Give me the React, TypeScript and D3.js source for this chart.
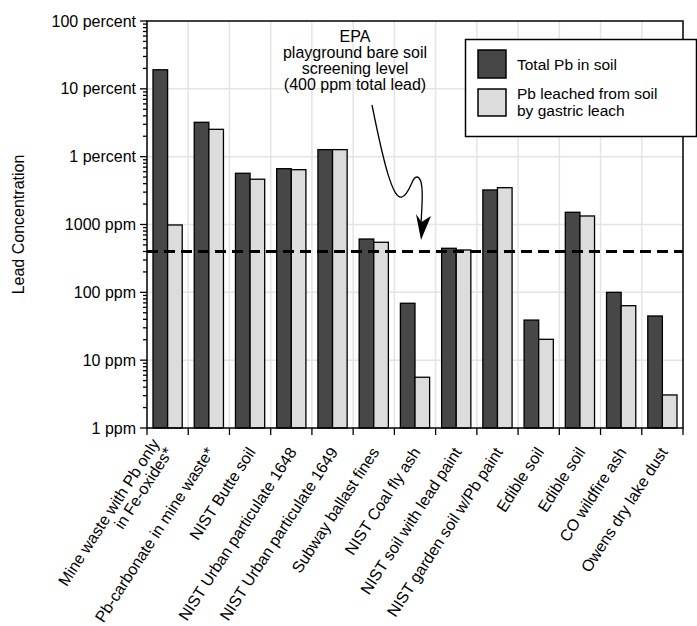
import React from "react";
import * as d3 from "d3";

// sample names (two-line ones split with \n)
const categories = [
  "Mine waste with Pb only\nin Fe-oxides*",
  "Pb-carbonate in mine waste*",
  "NIST Butte soil",
  "NIST Urban particulate 1648",
  "NIST Urban particulate 1649",
  "Subway ballast fines",
  "NIST Coal fly ash",
  "NIST soil with lead paint",
  "NIST garden soil w/Pb paint",
  "Edible soil",
  "Edible soil",
  "CO wildfire ash",
  "Owens dry lake dust",
];

// ppm
const totalPb = [191000, 32100, 5690, 6650, 12700, 611, 69, 446, 3230, 39, 1514, 100, 44.8];
const leachedPb = [984, 25300, 4650, 6430, 12700, 547, 5.6, 421, 3490, 20.3, 1335, 63.5, 3.07];

const yTickValues = [1, 10, 100, 1000, 10000, 100000, 1000000];
const yTickLabels = ["1 ppm", "10 ppm", "100 ppm", "1000 ppm", "1 percent", "10 percent", "100 percent"];

const screeningLevel = 400;
const noteLines = ["EPA", "playground bare soil", "screening level", "(400 ppm total lead)"];
const seriesNames = ["Total Pb in soil", "Pb leached from soil\nby gastric leach"];

const W = 697;
const H = 626;
const left = 147;
const right = 683;
const top = 21;
const bottom = 428;
const font = "'Liberation Sans', Arial, Helvetica, sans-serif";
const darkFill = "#474747";
const lightFill = "#dcdcdc";

export default function App() {
  const x = d3.scaleBand<number>().domain(d3.range(categories.length)).range([left, right]).padding(0);
  const bw = x.bandwidth();
  const xs = d3.scaleBand<string>().domain(["total", "leached"]).range([6, bw - 6]).padding(0);
  const y = d3.scaleLog().domain([1, 1e6]).range([bottom, top]);

  const minorTicks: number[] = [];
  for (let d = 1; d < 1e6; d *= 10) {
    for (let k = 2; k <= 9; k++) minorTicks.push(d * k);
  }
  const bounds = d3.range(categories.length + 1).map((i) => left + i * bw);

  const bars = categories.map((_, i) => [
    { key: "total", v: totalPb[i], fill: darkFill },
    { key: "leached", v: leachedPb[i], fill: lightFill },
  ]);

  const arrow = d3.path();
  arrow.moveTo(372, 105);
  arrow.bezierCurveTo(384, 165, 393, 200, 402, 197);
  arrow.bezierCurveTo(411, 194, 412, 172, 419, 178);
  arrow.bezierCurveTo(424, 183, 422, 205, 421, 224);

  return (
    <svg width={W} height={H} style={{ position: "absolute", left: 0, top: 0, background: "#fff" }} fontFamily={font}>
      {/* grid */}
      <g stroke="#e4e4e4" strokeWidth={1.5}>
        {bounds.slice(1, -1).map((bx, i) => (
          <line key={"gv" + i} x1={bx} x2={bx} y1={top} y2={bottom} />
        ))}
        {yTickValues.slice(1, -1).map((v) => (
          <line key={"gh" + v} x1={left} x2={right} y1={y(v)} y2={y(v)} />
        ))}
      </g>

      {/* bars */}
      {bars.map((grp, i) => (
        <g key={i} transform={`translate(${x(i)},0)`}>
          {grp.map((b) => (
            <rect
              key={b.key}
              x={xs(b.key)}
              y={y(b.v)}
              width={xs.bandwidth()}
              height={bottom - y(b.v)}
              fill={b.fill}
              stroke="#000"
              strokeWidth={1.3}
            />
          ))}
        </g>
      ))}

      {/* screening level */}
      <line
        x1={left}
        x2={right}
        y1={y(screeningLevel)}
        y2={y(screeningLevel)}
        stroke="#000"
        strokeWidth={3}
        strokeDasharray="11,6"
      />

      {/* frame */}
      <path d={`M${left},${bottom}V${top}H${right}V${bottom}Z`} fill="none" stroke="#000" strokeWidth={1.5} />

      {/* y ticks */}
      <g stroke="#000" strokeWidth={1.3}>
        {yTickValues.map((v) => (
          <line key={"t" + v} x1={left - 7} x2={left} y1={y(v)} y2={y(v)} />
        ))}
        {minorTicks.map((v) => (
          <line key={"m" + v} x1={left - 4} x2={left} y1={y(v)} y2={y(v)} />
        ))}
        {bounds.map((bx, i) => (
          <line key={"xt" + i} x1={bx} x2={bx} y1={bottom} y2={bottom + 7} />
        ))}
      </g>
      <g fontSize={16} textAnchor="end">
        {yTickValues.map((v, i) => (
          <text key={v} x={left - 11} y={y(v)} dy="0.35em">
            {yTickLabels[i]}
          </text>
        ))}
      </g>

      <text transform={`translate(24,${(top + bottom) / 2}) rotate(-90)`} textAnchor="middle" fontSize={16}>
        Lead Concentration
      </text>

      {/* x labels */}
      <g fontSize={16} textAnchor="end">
        {categories.map((c, i) => {
          const lines = c.split("\n");
          const cx = (x(i) as number) + bw / 2;
          return (
            <text key={i} transform={`translate(${cx + 6},${452}) rotate(-57)`}>
              {lines.map((ln, j) => (
                <tspan key={j} x={0} dy={j === 0 ? -(lines.length - 1) * 16 : 16}>
                  {ln}
                </tspan>
              ))}
            </text>
          );
        })}
      </g>

      {/* annotation */}
      <g fontSize={16} textAnchor="middle">
        {noteLines.map((ln, i) => (
          <text key={i} x={355} y={42 + i * 16}>
            {ln}
          </text>
        ))}
      </g>
      <path d={arrow.toString()} fill="none" stroke="#000" strokeWidth={1.3} />
      <path d="M421,240 L416,214 L421.5,222 L431,216 Z" fill="#000" />

      {/* legend */}
      <rect x={465.5} y={39.5} width={231} height={97} fill="#fff" stroke="#000" strokeWidth={1.5} />
      <rect x={478} y={50} width={28} height={28} fill={darkFill} stroke="#000" strokeWidth={1.5} />
      <rect x={478} y={89} width={28} height={27} fill={lightFill} stroke="#000" strokeWidth={1.5} />
      <g fontSize={15.5}>
        <text x={517} y={70}>
          {seriesNames[0]}
        </text>
        {seriesNames[1].split("\n").map((ln, j) => (
          <text key={j} x={517} y={99 + j * 17}>
            {ln}
          </text>
        ))}
      </g>
    </svg>
  );
}
